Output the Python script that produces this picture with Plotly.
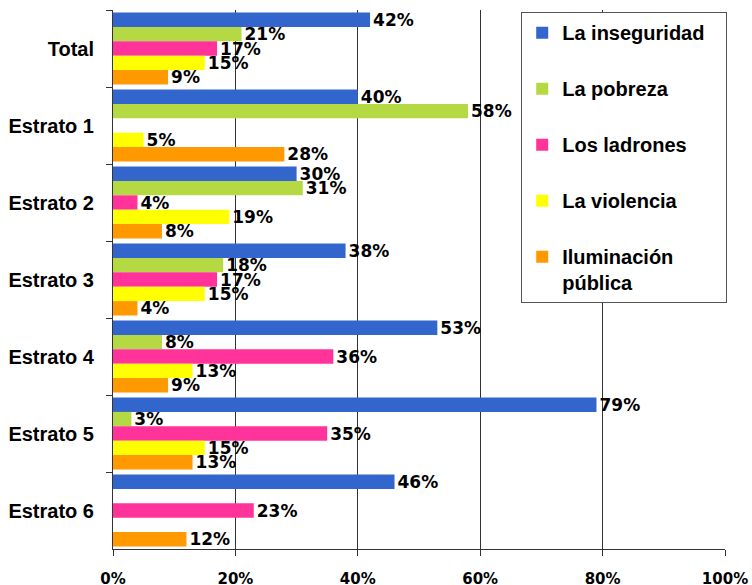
import plotly.graph_objects as go

categories = ["Total", "Estrato 1", "Estrato 2", "Estrato 3", "Estrato 4", "Estrato 5", "Estrato 6"]
series_names = ["La inseguridad\u00a0\u00a0\u00a0", "La pobreza", "Los ladrones", "La violencia", "Iluminación<br>pública"]
inseguridad = [42, 40, 30, 38, 53, 79, 46]
pobreza = [21, 58, 31, 18, 8, 3, None]
ladrones = [17, None, 4, 17, 36, 35, 23]
violencia = [15, 5, 19, 15, 13, 15, None]
iluminacion = [9, 28, 8, 4, 9, 13, 12]
x_tick_values = [0, 20, 40, 60, 80, 100]
x_tick_labels = ["0%", "20%", "40%", "60%", "80%", "100%"]
colors = ["#3366CC", "#B5D942", "#FF3399", "#FFFF00", "#FF9900"]

series_values = [inseguridad, pobreza, ladrones, violencia, iluminacion]

fig = go.Figure()
for i, (name, vals, col) in enumerate(zip(series_names, series_values, colors)):
    fig.add_trace(go.Bar(
        y=categories, x=vals, name=name, orientation="h",
        marker=dict(color=col, line=dict(width=0)),
        text=[f"{v}%" if v is not None else "" for v in vals],
        textposition="outside",
        textfont=dict(family="DejaVu Sans, Verdana", size=17, color="black", weight="bold"),
        constraintext="none", cliponaxis=False,
        legendgroup=f"g{i}",
    ))

fig.update_layout(
    width=752, height=585,
    margin=dict(l=113, r=27, t=10, b=36),
    barmode="group", bargap=0.065, bargroupgap=0,
    plot_bgcolor="white", paper_bgcolor="white",
    font=dict(family="Arial, Liberation Sans", color="black"),
    legend=dict(
        x=0.667, y=0.996, xanchor="left", yanchor="top",
        bgcolor="white", bordercolor="#555555", borderwidth=1,
        font=dict(family="Arial, Liberation Sans", size=20, color="black", weight="bold"),
        tracegroupgap=27, valign="top", traceorder="grouped",
    ),
    xaxis=dict(
        range=[0, 100], tickvals=x_tick_values, ticktext=x_tick_labels,
        showgrid=True, gridcolor="#333333", gridwidth=1,
        ticks="outside", ticklen=6, tickcolor="#333333",
        showline=True, linecolor="#333333", linewidth=1, zeroline=False,
        tickfont=dict(family="DejaVu Sans, Verdana", size=15, color="black", weight="bold"),
        ticklabelstandoff=10, automargin=False,
    ),
    yaxis=dict(
        autorange="reversed", showgrid=False,
        ticks="outside", ticklen=6, tickcolor="#333333", tickson="boundaries",
        showline=True, linecolor="#333333", linewidth=1,
        tickfont=dict(family="Arial, Liberation Sans", size=20, color="black", weight="bold"),
        ticklabelstandoff=14, automargin=False,
    ),
)

fig.write_html("out.html", config={"displayModeBar": False},
               post_script="document.body.style.margin='0';")
